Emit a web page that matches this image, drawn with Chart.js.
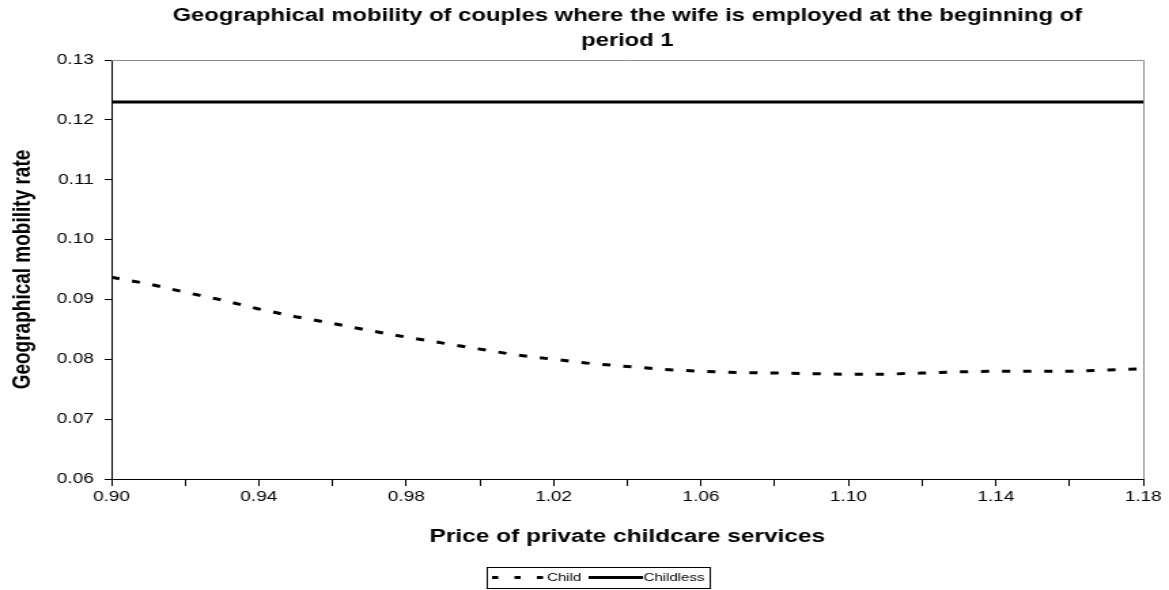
<!DOCTYPE html>
<html>
<head>
<meta charset="utf-8">
<script src="https://cdn.jsdelivr.net/npm/chart.js@4"></script>
<style>
  html, body { margin: 0; padding: 0; background: #ffffff; }
</style>
</head>
<body>
<canvas id="c" width="860" height="590" style="display:block;width:1169px;height:590px;"></canvas>
<script>
// ---- data ----
const prices = [0.90, 0.91, 0.92, 0.93, 0.94, 0.95, 0.96, 0.97, 0.98, 0.99,
                1.00, 1.01, 1.02, 1.03, 1.04, 1.05, 1.06, 1.07, 1.08, 1.09,
                1.10, 1.11, 1.12, 1.13, 1.14, 1.15, 1.16, 1.17, 1.18];
const childRate = [0.0937, 0.0926, 0.0912, 0.0899, 0.0884, 0.0871, 0.0860, 0.0848, 0.0837, 0.0827,
                   0.0817, 0.0807, 0.0800, 0.0793, 0.0788, 0.0783, 0.0780, 0.0778, 0.0777, 0.0776,
                   0.0775, 0.0775, 0.0777, 0.0779, 0.0780, 0.0780, 0.0780, 0.0782, 0.0784];
const childlessRate = [0.123, 0.123, 0.123, 0.123, 0.123, 0.123, 0.123, 0.123, 0.123, 0.123,
                       0.123, 0.123, 0.123, 0.123, 0.123, 0.123, 0.123, 0.123, 0.123, 0.123,
                       0.123, 0.123, 0.123, 0.123, 0.123, 0.123, 0.123, 0.123, 0.123];
const xLabelTicks = [0.90, 0.94, 0.98, 1.02, 1.06, 1.10, 1.14, 1.18];
const seriesNames = ['Child', 'Childless'];
const titleLines = ['Geographical mobility of couples where the wife is employed at the beginning of', 'period 1'];
const xTitle = 'Price of private childcare services';
const yTitle = 'Geographical mobility rate';

const FONT = '"Liberation Sans", Arial, sans-serif';

const titlePlugin = {
  id: 'centeredTitle',
  afterDraw(chart) {
    const ctx = chart.ctx;
    const a = chart.chartArea;
    const cx = (a.left + a.right) / 2;
    ctx.save();
    ctx.fillStyle = '#000';
    ctx.font = 'bold 17.5px ' + FONT;
    ctx.textAlign = 'center';
    ctx.textBaseline = 'middle';
    ctx.fillText(titleLines[0], cx, 16);
    ctx.fillText(titleLines[1], cx, 41);
    ctx.restore();
  }
};

const framePlugin = {
  id: 'frame',
  afterDraw(chart) {
    const ctx = chart.ctx;
    const a = chart.chartArea;
    ctx.save();
    ctx.strokeStyle = '#8c8c8c';
    ctx.lineWidth = 1;
    ctx.beginPath();
    ctx.moveTo(a.left, a.top + 0.5);
    ctx.lineTo(a.right + 0.5, a.top + 0.5);
    ctx.lineTo(a.right + 0.5, a.bottom);
    ctx.stroke();
    ctx.restore();
  }
};

const legendPlugin = {
  id: 'boxLegend',
  afterDraw(chart) {
    const ctx = chart.ctx;
    const ds = chart.data.datasets;
    const top = 567, h = 21, left = 358, w = 164;
    const cy = top + h / 2;
    ctx.save();
    ctx.strokeStyle = '#000';
    ctx.lineWidth = 1;
    ctx.strokeRect(left + 0.5, top + 0.5, w, h);
    ctx.font = '11px ' + FONT;
    ctx.fillStyle = '#000';
    ctx.textAlign = 'left';
    ctx.textBaseline = 'middle';
    ctx.strokeStyle = ds[0].borderColor;
    ctx.lineWidth = 3;
    ctx.setLineDash([4.5, 12]);
    ctx.beginPath(); ctx.moveTo(362, cy); ctx.lineTo(401.5, cy); ctx.stroke();
    ctx.setLineDash([]);
    ctx.fillText(seriesNames[0], 402.5, cy);
    ctx.strokeStyle = ds[1].borderColor;
    ctx.lineWidth = 3;
    ctx.beginPath(); ctx.moveTo(433, cy); ctx.lineTo(473, cy); ctx.stroke();
    ctx.fillText(seriesNames[1], 473.5, cy);
    ctx.restore();
  }
};

new Chart(document.getElementById('c'), {
  type: 'line',
  data: {
    datasets: [
      {
        label: seriesNames[0],
        data: prices.map((x, i) => ({ x: x, y: childRate[i] })),
        borderColor: '#000000',
        borderWidth: 3,
        borderDash: [6, 9.5],
        borderCapStyle: 'butt',
        pointRadius: 0,
        fill: false,
        tension: 0
      },
      {
        label: seriesNames[1],
        data: prices.map((x, i) => ({ x: x, y: childlessRate[i] })),
        borderColor: '#000000',
        borderWidth: 3,
        pointRadius: 0,
        fill: false,
        tension: 0
      }
    ]
  },
  options: {
    responsive: false,
    animation: false,
    events: [],
    devicePixelRatio: 1,
    layout: { padding: { top: 60, right: 19, bottom: 36, left: 0 } },
    plugins: {
      legend: { display: false },
      title: { display: false },
      tooltip: { enabled: false }
    },
    scales: {
      x: {
        type: 'linear',
        min: 0.90,
        max: 1.18,
        afterFit(scale) { scale.height = 75; },
        ticks: {
          stepSize: 0.02,
          autoSkip: false,
          maxRotation: 0,
          minRotation: 0,
          padding: 3,
          color: '#000',
          font: { family: FONT, size: 14 },
          callback(v) {
            const hit = xLabelTicks.find(t => Math.abs(t - v) < 1e-6);
            return hit !== undefined ? hit.toFixed(2) : '';
          }
        },
        grid: { drawOnChartArea: false, drawTicks: true, tickLength: 7, color: '#000', lineWidth: 1 },
        border: { display: true, color: '#000', width: 1 },
        title: {
          display: true,
          text: xTitle,
          color: '#000',
          font: { family: FONT, size: 18, weight: 'bold' },
          padding: { top: 0, bottom: 6 }
        }
      },
      y: {
        type: 'linear',
        min: 0.06,
        max: 0.13,
        afterFit(scale) { scale.width = 82; },
        ticks: {
          stepSize: 0.01,
          padding: 8,
          color: '#000',
          font: { family: FONT, size: 14 },
          callback(v) { return v.toFixed(2); }
        },
        grid: { drawOnChartArea: false, drawTicks: true, tickLength: 5, color: '#000', lineWidth: 1 },
        border: { display: true, color: '#000', width: 1 },
        title: {
          display: true,
          text: yTitle,
          color: '#000',
          font: { family: FONT, size: 19, weight: 'bold' },
          padding: { top: 5, bottom: 0 }
        }
      }
    }
  },
  plugins: [titlePlugin, framePlugin, legendPlugin]
});
</script>
</body>
</html>
